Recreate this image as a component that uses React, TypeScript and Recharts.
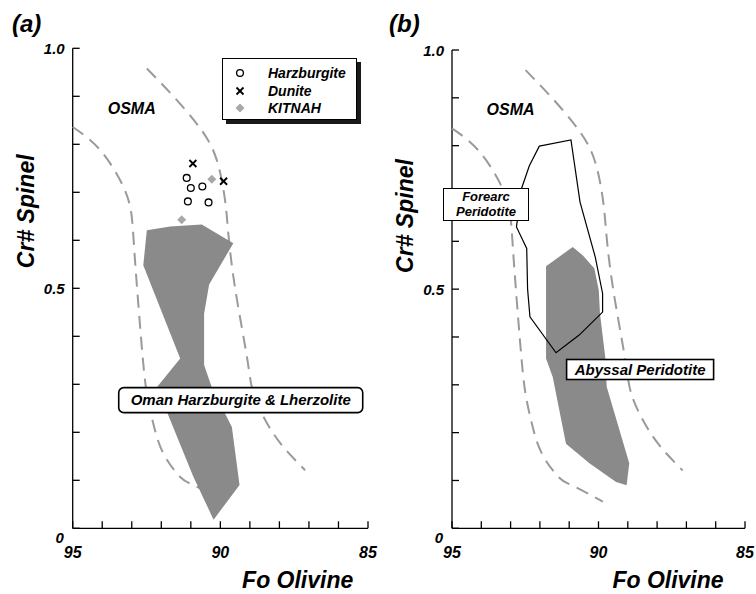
import React from "react";
import {
  ScatterChart,
  Scatter,
  XAxis,
  YAxis,
  Legend,
  ReferenceDot,
} from "recharts";

// Fo olivine (x) vs Cr# spinel (y)
const foTicks = [85, 86, 87, 88, 89, 90, 91, 92, 93, 94, 95];
const crTicks = [0, 0.1, 0.2, 0.3, 0.4, 0.5, 0.6, 0.7, 0.8, 0.9, 1.0];
const legendOrder = ["Harzburgite", "Dunite", "KITNAH"];

// OSMA (olivine-spinel mantle array) dashed bounds
const osmaOuter: [number, number][] = [
  [92.49, 0.958], [91.59, 0.9], [90.68, 0.833], [90.12, 0.767], [89.84, 0.683],
  [89.73, 0.614], [89.5, 0.5], [89.1, 0.357], [88.88, 0.281], [88.42, 0.219],
  [87.86, 0.169], [87.13, 0.121],
];
const osmaInner: [number, number][] = [
  [95.0, 0.836], [94.07, 0.788], [93.28, 0.711], [93.0, 0.649], [92.89, 0.558],
  [92.66, 0.378], [92.49, 0.281], [92.27, 0.218], [91.93, 0.156], [91.36, 0.107],
  [90.91, 0.09], [89.85, 0.056],
];

// panel (a)
const omanField: [number, number][] = [
  [92.49, 0.621], [91.7, 0.629], [90.63, 0.633], [89.56, 0.594], [90.38, 0.508],
  [90.55, 0.447], [90.55, 0.34], [90.29, 0.294], [89.61, 0.211], [89.35, 0.09],
  [90.23, 0.018], [90.91, 0.107], [92.15, 0.294], [91.36, 0.354], [92.61, 0.548],
];
const harzburgite: [number, number][] = [
  [91.14, 0.73], [91.0, 0.709], [90.61, 0.712], [91.1, 0.681], [90.4, 0.679],
];
const dunite: [number, number][] = [
  [90.93, 0.76], [89.89, 0.723],
];
const kitnah: [number, number][] = [
  [90.29, 0.727], [91.31, 0.643],
];

// panel (b)
const forearcField: [number, number][] = [
  [92.02, 0.799], [90.94, 0.812], [90.63, 0.682], [90.11, 0.567], [89.86, 0.491],
  [89.86, 0.452], [90.66, 0.404], [91.45, 0.367], [92.34, 0.442], [92.42, 0.5],
  [92.45, 0.585], [92.8, 0.63], [92.63, 0.71], [92.36, 0.758],
];
const abyssalField: [number, number][] = [
  [91.79, 0.548], [90.88, 0.588], [90.54, 0.571], [90.14, 0.543], [89.99, 0.497],
  [89.95, 0.449], [89.77, 0.358], [89.72, 0.296], [88.95, 0.136], [89.04, 0.09],
  [89.4, 0.097], [90.31, 0.136], [91.11, 0.177], [91.56, 0.316], [91.79, 0.355],
];

const FONT = "'Liberation Sans', Arial, Helvetica, sans-serif";
const toPts = (a: [number, number][]) => a.map(([x, y]) => ({ x, y }));
const noDot = () => <g />;

const polyPath = (pts: { x: number; y: number }[]) =>
  "M" + pts.map((p) => `${p.x},${p.y}`).join("L") + "Z";

const filledPoly = (color: string) => (p: any) => (
  <path d={polyPath(p.points)} fill={color} stroke="none" />
);
const outlinePoly = (p: any) => (
  <path d={polyPath(p.points)} fill="none" stroke="#000" strokeWidth={1.2} />
);

const dashed = { stroke: "#9a9a9a", strokeWidth: 2, strokeDasharray: "13 8" };

const txt = { fontFamily: FONT, fontWeight: "bold", fontStyle: "italic" } as const;

const YTick = (props: any) => {
  const { x, y, payload } = props;
  const v = payload.value;
  return (
    <g>
      <line x1={x} y1={y} x2={x + 7} y2={y} stroke="#000" strokeWidth={1.3} />
      {v === 0 && (
        <text x={x - 13} y={y + 15} textAnchor="middle" fontSize={15} {...txt}>0</text>
      )}
      {(v === 0.5 || v === 1) && (
        <text x={x - 8} y={y + 6} textAnchor="end" fontSize={15} {...txt}>
          {v === 1 ? "1.0" : "0.5"}
        </text>
      )}
    </g>
  );
};

const XTick = (props: any) => {
  const { x, y, payload } = props;
  const v = payload.value;
  return (
    <g>
      <line x1={x} y1={y} x2={x} y2={y - 7} stroke="#000" strokeWidth={1.3} />
      {v % 5 === 0 && (
        <text x={x} y={y + 30} textAnchor="middle" fontSize={16} {...txt}>{v}</text>
      )}
    </g>
  );
};

const marker = (name: string, cx: number, cy: number) => {
  if (name === "Harzburgite")
    return <circle cx={cx} cy={cy} r={3.4} fill="#fff" stroke="#000" strokeWidth={1.3} />;
  if (name === "Dunite")
    return (
      <g stroke="#000" strokeWidth={1.8}>
        <line x1={cx - 3.5} y1={cy - 3.5} x2={cx + 3.5} y2={cy + 3.5} />
        <line x1={cx - 3.5} y1={cy + 3.5} x2={cx + 3.5} y2={cy - 3.5} />
      </g>
    );
  return (
    <polygon
      points={`${cx},${cy - 4.5} ${cx + 4.5},${cy} ${cx},${cy + 4.5} ${cx - 4.5},${cy}`}
      fill="#a8a8a8"
    />
  );
};

const LegendBox = () => (
  <div
    style={{
      position: "relative",
      width: 135,
      height: 62,
      border: "1.3px solid #000",
      boxShadow: "4px 4px 0 #1a1a1a",
      background: "#fff",
      boxSizing: "border-box",
    }}
  >
    {legendOrder.map((name, i) => (
      <div
        key={name}
        style={{
          position: "absolute",
          left: 0,
          top: 5 + i * 17.5,
          height: 18,
          display: "flex",
          alignItems: "center",
        }}
      >
        <svg width={34} height={18} style={{ display: "block" }}>
          {marker(name, 17, 9)}
        </svg>
        <span style={{ marginLeft: 11, fontSize: 14, lineHeight: "18px", color: "#000", ...txt }}>
          {name}
        </span>
      </div>
    ))}
  </div>
);

const boxLabel = (text: string, w: number, h: number, round: number) => (p: any) => (
  <g>
    <rect
      x={p.cx - w / 2}
      y={p.cy - h / 2}
      width={w}
      height={h}
      rx={round}
      fill="#fff"
      stroke="#000"
      strokeWidth={1.6}
    />
    <text x={p.cx} y={p.cy + 5} textAnchor="middle" fontSize={15} {...txt}>
      {text}
    </text>
  </g>
);

const osmaText = (p: any) => (
  <text x={p.cx} y={p.cy + 6} textAnchor="middle" fontSize={16} {...txt}>OSMA</text>
);

function Panel({
  margin,
  xTitleDx,
  yTitleDy,
  children,
}: {
  margin: { top: number; left: number; right: number; bottom: number };
  xTitleDx: number;
  yTitleDy: number;
  children: React.ReactNode;
}) {
  return (
    <ScatterChart width={378} height={594} margin={margin}>
      <XAxis
        type="number"
        dataKey="x"
        domain={[85, 95]}
        reversed
        ticks={foTicks}
        interval={0}
        height={1}
        tickSize={0}
        tickMargin={0}
        tickLine={false}
        tick={<XTick />}
        axisLine={{ stroke: "#000", strokeWidth: 1.3 }}
        label={(lp: any) => (
          <text
            x={lp.viewBox.x + xTitleDx}
            y={lp.viewBox.y + 60}
            textAnchor="middle"
            fontSize={23}
            {...txt}
          >
            Fo Olivine
          </text>
        )}
      />
      <YAxis
        type="number"
        dataKey="y"
        domain={[0, 1]}
        ticks={crTicks}
        interval={0}
        width={1}
        tickSize={0}
        tickMargin={0}
        tickLine={false}
        tick={<YTick />}
        axisLine={{ stroke: "#000", strokeWidth: 1.3 }}
        label={(lp: any) => {
          const x = lp.viewBox.x + lp.viewBox.width - 39;
          const y = lp.viewBox.y + yTitleDy;
          return (
            <text
              x={x}
              y={y}
              transform={`rotate(-90 ${x} ${y})`}
              textAnchor="middle"
              fontSize={23}
              {...txt}
            >
              Cr# Spinel
            </text>
          );
        }}
      />
      <Scatter
        data={toPts(osmaInner)}
        legendType="none"
        shape={noDot}
        line={dashed}
        lineJointType="natural"
        isAnimationActive={false}
      />
      <Scatter
        data={toPts(osmaOuter)}
        legendType="none"
        shape={noDot}
        line={dashed}
        lineJointType="natural"
        isAnimationActive={false}
      />
      <ReferenceDot x={93.0} y={0.876} ifOverflow="visible" shape={osmaText} />
      {children}
    </ScatterChart>
  );
}

export default function App() {
  return (
    <div
      style={{
        position: "absolute",
        left: 0,
        top: 0,
        width: 756,
        height: 594,
        background: "#fff",
        fontFamily: FONT,
      }}
    >
      <div style={{ position: "absolute", left: 12, top: 12, fontSize: 24, lineHeight: "24px", ...txt }}>
        (a)
      </div>
      <div style={{ position: "absolute", left: 389, top: 12, fontSize: 24, lineHeight: "24px", ...txt }}>
        (b)
      </div>

      <div style={{ position: "absolute", left: 0, top: 0 }}>
        <Panel
          margin={{ top: 48.3, left: 71.7, right: 10, bottom: 64.7 }}
          xTitleDx={225}
          yTitleDy={163}
        >
          <Scatter
            data={toPts(omanField)}
            legendType="none"
            shape={noDot}
            line={filledPoly("#8a8a8a")}
            isAnimationActive={false}
          />
          <Scatter
            name="Harzburgite"
            data={toPts(harzburgite)}
            fill="#000"
            shape={(p: any) => marker("Harzburgite", p.cx, p.cy)}
            isAnimationActive={false}
          />
          <Scatter
            name="Dunite"
            data={toPts(dunite)}
            fill="#000"
            shape={(p: any) => marker("Dunite", p.cx, p.cy)}
            isAnimationActive={false}
          />
          <Scatter
            name="KITNAH"
            data={toPts(kitnah)}
            fill="#a8a8a8"
            shape={(p: any) => marker("KITNAH", p.cx, p.cy)}
            isAnimationActive={false}
          />
          <ReferenceDot
            x={89.31}
            y={0.267}
            ifOverflow="visible"
            shape={boxLabel("Oman Harzburgite & Lherzolite", 244, 25, 5)}
          />
          <Legend
            layout="vertical"
            align="center"
            verticalAlign="middle"
            content={<LegendBox />}
            wrapperStyle={{ left: 222, top: 58, width: 135, height: 62 }}
          />
        </Panel>
      </div>

      <div style={{ position: "absolute", left: 378, top: 0 }}>
        <Panel
          margin={{ top: 50, left: 73, right: 11, bottom: 64.7 }}
          xTitleDx={216}
          yTitleDy={166}
        >
          <Scatter
            data={toPts(abyssalField)}
            legendType="none"
            shape={noDot}
            line={filledPoly("#8a8a8a")}
            isAnimationActive={false}
          />
          <Scatter
            data={toPts(forearcField)}
            legendType="none"
            shape={noDot}
            line={outlinePoly}
            isAnimationActive={false}
          />
          <ReferenceDot
            x={88.58}
            y={0.332}
            ifOverflow="visible"
            shape={boxLabel("Abyssal Peridotite", 147, 20, 0)}
          />
        </Panel>
      </div>

      {/* field label that sits over the y axis of panel (b) */}
      <div
        style={{
          position: "absolute",
          left: 443,
          top: 188,
          width: 86,
          height: 33,
          boxSizing: "border-box",
          border: "1.5px solid #000",
          background: "#fff",
          textAlign: "center",
          fontSize: 13,
          lineHeight: "15px",
          ...txt,
        }}
      >
        Forearc
        <br />
        Peridotite
      </div>
    </div>
  );
}
